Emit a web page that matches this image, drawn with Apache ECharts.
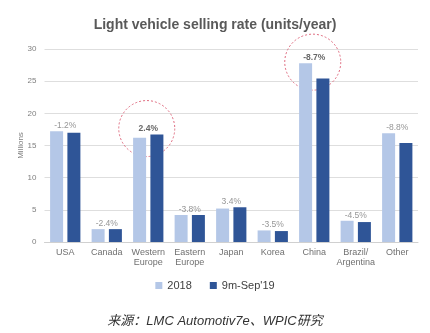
<!DOCTYPE html>
<html>
<head>
<meta charset="utf-8">
<script src="https://cdn.jsdelivr.net/npm/echarts@6/dist/echarts.min.js"></script>
<style>
  html, body { margin: 0; padding: 0; background: #ffffff; }
  #chart { width: 430px; height: 333px; }
</style>
</head>
<body>
<div id="chart"></div>
<script>
// Light vehicle selling rate by region, millions of units per year
const categories = ['USA', 'Canada', 'Western\nEurope', 'Eastern\nEurope', 'Japan', 'Korea', 'China', 'Brazil/\nArgentina', 'Other'];
const sales2018 = [17.2, 2.0, 16.2, 4.2, 5.2, 1.8, 27.8, 3.3, 16.9];
const salesSep19 = [17.0, 2.0, 16.7, 4.2, 5.4, 1.7, 25.4, 3.1, 15.4];
const changeLabels = ['-1.2%', '-2.4%', '2.4%', '-3.8%', '3.4%', '-3.5%', '-8.7%', '-4.5%', '-8.8%'];
const highlighted = [2, 6];
const yTicks = [0, 5, 10, 15, 20, 25, 30];

const FONT = '"Liberation Sans", Arial, sans-serif';
const LIGHT = '#b4c7e7';
const DARK = '#2f5597';

const chart = echarts.init(document.getElementById('chart'), null, { renderer: 'canvas' });

// Change labels sit above the taller bar of each pair
const labelData = categories.map((c, i) => ({
  value: Math.max(sales2018[i], salesSep19[i]),
  label: {
    formatter: changeLabels[i],
    fontWeight: highlighted.includes(i) ? 'bold' : 'normal',
    color: highlighted.includes(i) ? '#404040' : '#7a7a7a'
  }
}));

chart.setOption({
  animation: false,
  backgroundColor: '#ffffff',
  title: {
    text: 'Light vehicle selling rate (units/year)',
    left: 'center',
    top: 13,
    textStyle: { fontFamily: FONT, fontSize: 14, fontWeight: 'bold', color: '#595959' }
  },
  grid: { left: 44.5, right: 12, top: 49, bottom: 91 },
  legend: {
    bottom: 37,
    left: 'center',
    itemWidth: 7,
    itemHeight: 7,
    itemGap: 18,
    icon: 'rect',
    textStyle: { fontFamily: FONT, fontSize: 11, color: '#404040' },
    data: ['2018', "9m-Sep'19"]
  },
  xAxis: {
    type: 'category',
    data: categories,
    axisLine: { lineStyle: { color: '#d0d0d0', width: 1 } },
    axisTick: { show: false },
    axisLabel: { fontFamily: FONT, fontSize: 9, color: '#707070', lineHeight: 10, margin: 6, interval: 0 }
  },
  yAxis: {
    type: 'value',
    min: yTicks[0],
    max: yTicks[yTicks.length - 1],
    interval: 5,
    name: 'Millions',
    nameLocation: 'middle',
    nameRotate: 90,
    nameGap: 20,
    nameMoveOverlap: false,
    nameTextStyle: { fontFamily: FONT, fontSize: 8, color: '#808080' },
    axisLine: { show: false },
    axisTick: { show: false },
    axisLabel: { fontFamily: FONT, fontSize: 8, color: '#808080', margin: 8 },
    splitLine: { lineStyle: { color: '#dedede', width: 1 } }
  },
  series: [
    {
      name: '2018',
      type: 'bar',
      data: sales2018,
      barWidth: 13,
      barGap: '33%',
      itemStyle: { color: LIGHT }
    },
    {
      name: "9m-Sep'19",
      type: 'bar',
      data: salesSep19,
      barWidth: 13,
      itemStyle: { color: DARK }
    },
    {
      name: 'change',
      type: 'scatter',
      data: labelData,
      symbolSize: 0,
      silent: true,
      label: { show: true, position: 'top', distance: 1, fontFamily: FONT, fontSize: 8.5 }
    }
  ]
});

// Dashed red rings around the highlighted change labels
const ringLift = [6, 1];
const rings = highlighted.map((i, k) => {
  const p = chart.convertToPixel({ seriesIndex: 2 }, [i, labelData[i].value]);
  return {
    type: 'circle',
    shape: { cx: p[0] - 1.5, cy: p[1] - ringLift[k], r: 28 },
    style: { fill: 'none', stroke: '#e06c80', lineWidth: 1, lineDash: [2, 2] },
    silent: true
  };
});

chart.setOption({
  graphic: rings.concat([{
    type: 'text',
    left: 'center',
    top: 315,
    style: {
      text: '来源：LMC Automotiv7e、WPIC研究',
      font: 'italic 13px "Liberation Sans", "Noto Sans CJK SC", sans-serif',
      fill: '#333333'
    }
  }])
});
</script>
</body>
</html>
